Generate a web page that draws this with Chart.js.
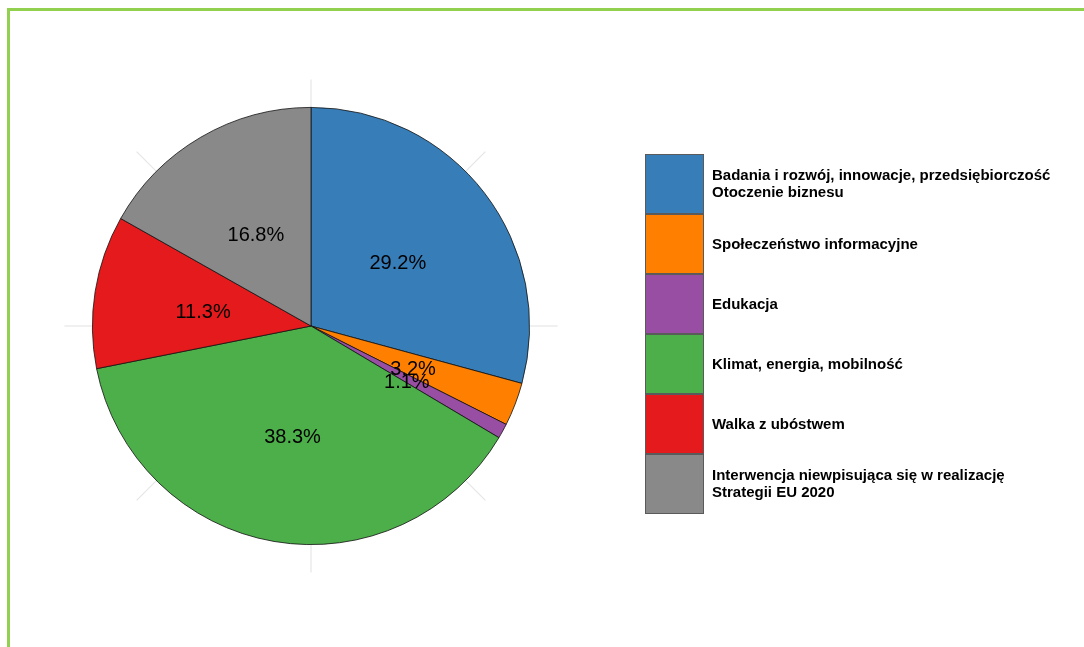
<!DOCTYPE html>
<html>
<head>
<meta charset="utf-8">
<script src="https://cdn.jsdelivr.net/npm/chart.js@4.4.1/dist/chart.umd.min.js"></script>
<style>
html,body{margin:0;padding:0;background:#fff;}
canvas{display:block;}
</style>
</head>
<body>
<canvas id="c" width="1084" height="647"></canvas>
<script>
const categories = [
  "Badania i rozwój, innowacje, przedsiębiorczość\nOtoczenie biznesu",
  "Społeczeństwo informacyjne",
  "Edukacja",
  "Klimat, energia, mobilność",
  "Walka z ubóstwem",
  "Interwencja niewpisująca się w realizację\nStrategii EU 2020"
];
const shares = [29.2, 3.2, 1.1, 38.3, 11.3, 16.8];
const colors = ["#377eb8", "#ff7f00", "#984ea3", "#4daf4a", "#e41a1c", "#898989"];

const framePlugin = {
  id: 'frame',
  beforeDraw(chart) {
    const ctx = chart.ctx;
    ctx.save();
    ctx.fillStyle = '#fff';
    ctx.fillRect(0, 0, chart.width, chart.height);
    ctx.fillStyle = '#92d050';
    ctx.fillRect(7, 8, chart.width - 7, 3);
    ctx.fillRect(7, 8, 3, chart.height - 8);
    ctx.restore();
  },
  beforeDatasetsDraw(chart) {
    const meta = chart.getDatasetMeta(0);
    const arc = meta.data[0];
    if (!arc) return;
    const {x, y, outerRadius} = arc.getProps(['x', 'y', 'outerRadius'], true);
    const ctx = chart.ctx;
    ctx.save();
    ctx.strokeStyle = '#e6e6e6';
    ctx.lineWidth = 1.2;
    for (let i = 0; i < 8; i++) {
      const a = i * Math.PI / 4;
      const sx = Math.sin(a), sy = -Math.cos(a);
      ctx.beginPath();
      ctx.moveTo(x + sx * (outerRadius - 2), y + sy * (outerRadius - 2));
      ctx.lineTo(x + sx * (outerRadius + 28), y + sy * (outerRadius + 28));
      ctx.stroke();
    }
    ctx.restore();
  },
  afterDatasetsDraw(chart) {
    const ctx = chart.ctx;
    const meta = chart.getDatasetMeta(0);
    const vals = chart.data.datasets[0].data;
    ctx.save();
    ctx.font = '20px "Liberation Sans", Arial, sans-serif';
    ctx.fillStyle = '#000';
    ctx.textAlign = 'center';
    ctx.textBaseline = 'middle';
    meta.data.forEach((arc, i) => {
      const p = arc.getProps(['x', 'y', 'startAngle', 'endAngle', 'outerRadius'], true);
      const mid = (p.startAngle + p.endAngle) / 2;
      const r = p.outerRadius * 0.5;
      ctx.fillText(vals[i].toFixed(1) + '%', p.x + Math.cos(mid) * r, p.y + Math.sin(mid) * r + 4);
    });
    // legend
    const lx = 645, ly = 154, kw = 59, kh = 60;
    const labels = chart.data.labels;
    const bg = chart.data.datasets[0].backgroundColor;
    labels.forEach((lab, i) => {
      const top = ly + i * kh;
      ctx.fillStyle = bg[i];
      ctx.fillRect(lx, top + 0.5, kw, kh - 1);
      ctx.strokeStyle = '#5a5a5a';
      ctx.lineWidth = 1;
      ctx.strokeRect(lx + 0.5, top + 0.5, kw - 1, kh - 1);
      ctx.fillStyle = '#000';
      ctx.font = 'bold 15px "Liberation Sans", Arial, sans-serif';
      ctx.textAlign = 'left';
      ctx.textBaseline = 'middle';
      const lines = lab.split('\n');
      const lh = 16.5;
      const cy = top + kh / 2 + 0.5;
      lines.forEach((ln, j) => {
        ctx.fillText(ln, 712, cy + (j - (lines.length - 1) / 2) * lh);
      });
    });
    ctx.restore();
  }
};

new Chart(document.getElementById('c'), {
  type: 'pie',
  data: {
    labels: categories,
    datasets: [{
      data: shares,
      backgroundColor: colors,
      borderColor: '#111',
      borderWidth: 0.8,
      hoverOffset: 0
    }]
  },
  options: {
    responsive: false,
    animation: false,
    events: [],
    layout: { padding: { left: 92, right: 554, top: 107, bottom: 102 } },
    plugins: {
      legend: { display: false },
      tooltip: { enabled: false }
    }
  },
  plugins: [framePlugin]
});
</script>
</body>
</html>
